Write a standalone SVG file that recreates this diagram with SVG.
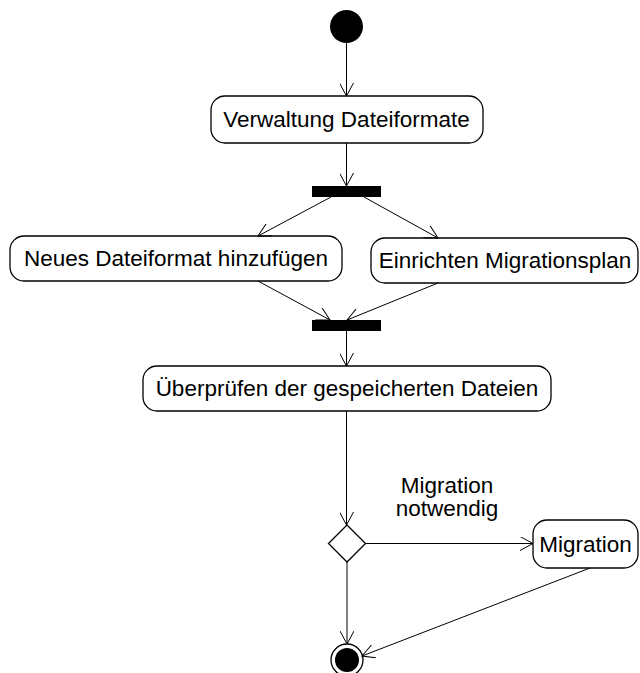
<svg xmlns="http://www.w3.org/2000/svg" width="640" height="673" viewBox="0 0 640 673">
  <style>
    .act { fill: #fff; stroke: #000; stroke-width: 1.3; }
    .lbl { font-family: "Liberation Sans", Arial, sans-serif; font-size: 22.5px; fill: #000; text-anchor: middle; }
    .flow { fill: none; stroke: #000; stroke-width: 1; marker-end: url(#open); }
    .bar { fill: #000; }
  </style>
  <defs>
    <marker id="open" viewBox="0 0 14 14" refX="13" refY="7" markerWidth="14" markerHeight="14" markerUnits="userSpaceOnUse" orient="auto">
      <path d="M0,0 L13,7 L0,14" fill="none" stroke="#000" stroke-width="1"/>
    </marker>
  </defs>
  <rect width="640" height="673" fill="#fff"/>

  <g id="start">
    <circle cx="346.5" cy="26.5" r="16.5" fill="#000"/>
  </g>

  <g id="verwaltung">
    <rect class="act" x="211" y="96" width="272" height="47" rx="14"/>
    <text class="lbl" x="346.5" y="127">Verwaltung Dateiformate</text>
  </g>

  <g id="fork">
    <rect class="bar" x="312" y="186" width="69" height="11"/>
  </g>

  <g id="neues-format">
    <rect class="act" x="10" y="236" width="332" height="45" rx="14"/>
    <text class="lbl" x="176" y="266">Neues Dateiformat hinzufügen</text>
  </g>

  <g id="migrationsplan">
    <rect class="act" x="371" y="238" width="267" height="45" rx="14"/>
    <text class="lbl" x="505" y="268">Einrichten Migrationsplan</text>
  </g>

  <g id="join">
    <rect class="bar" x="312" y="320" width="69" height="11"/>
  </g>

  <g id="ueberpruefen">
    <rect class="act" x="143" y="366" width="408" height="45" rx="14"/>
    <text class="lbl" x="347" y="396">Überprüfen der gespeicherten Dateien</text>
  </g>

  <g id="decision">
    <polygon class="act" points="347,525 365.5,543.5 347,562 328.5,543.5"/>
  </g>

  <g id="migration">
    <rect class="act" x="533" y="520" width="105" height="48" rx="14"/>
    <text class="lbl" x="585.5" y="552">Migration</text>
  </g>

  <g id="end">
    <circle cx="347" cy="660" r="16" fill="#fff" stroke="#000" stroke-width="1.3"/>
    <circle cx="347" cy="660" r="12" fill="#000"/>
  </g>

  <g id="connectors">
    <line class="flow" x1="346.5" y1="43" x2="346.5" y2="96"/>
    <line class="flow" x1="346.5" y1="143" x2="346.5" y2="186"/>
    <line class="flow" x1="331" y1="197" x2="258" y2="236"/>
    <line class="flow" x1="364" y1="197" x2="438" y2="238"/>
    <line class="flow" x1="258" y1="281" x2="330" y2="320"/>
    <line class="flow" x1="438" y1="283" x2="347" y2="320"/>
    <line class="flow" x1="346.5" y1="331" x2="346.5" y2="366"/>
    <line class="flow" x1="346.5" y1="411" x2="346.5" y2="525"/>
    <line class="flow" x1="365.5" y1="543.5" x2="533" y2="543.5"/>
    <line class="flow" x1="347" y1="562" x2="347" y2="644"/>
    <line class="flow" x1="590" y1="568" x2="362" y2="656"/>
    <text class="lbl" x="447" y="493">Migration</text>
    <text class="lbl" x="447" y="516">notwendig</text>
  </g>
</svg>
